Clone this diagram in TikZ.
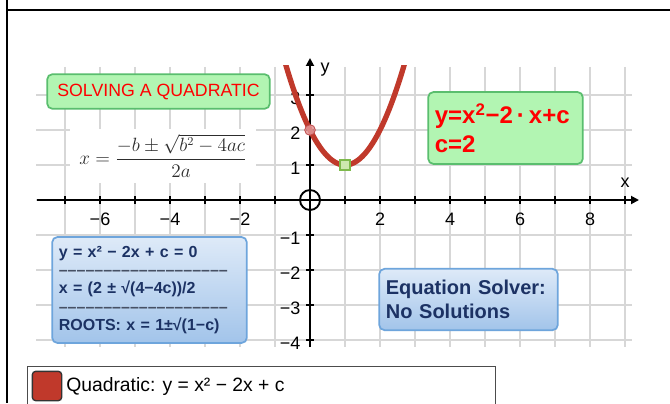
\documentclass[tikz,border=0pt]{standalone}
\usepackage{fontspec}
\setmainfont{Liberation Sans}
\usetikzlibrary{arrows.meta}
\definecolor{gridgray}{RGB}{215,215,215}
\definecolor{curvered}{RGB}{192,57,43}
\definecolor{gfill}{RGB}{178,245,178}
\definecolor{gdraw}{RGB}{90,190,110}
\definecolor{ggtext}{RGB}{255,0,0}
\definecolor{btop}{RGB}{222,234,248}
\definecolor{bbot}{RGB}{162,196,234}
\definecolor{bdraw}{RGB}{110,165,220}
\definecolor{navy}{RGB}{28,50,100}
\definecolor{dashgray}{RGB}{70,80,100}
\definecolor{formgray}{RGB}{45,45,45}
\definecolor{ptfill}{RGB}{228,150,150}
\definecolor{ptdraw}{RGB}{190,70,70}
\definecolor{vfill}{RGB}{205,232,175}
\definecolor{vdraw}{RGB}{125,185,75}
\tikzset{
  gridline/.style={draw=gridgray, line width=1.1pt},
  axisline/.style={line width=1.4pt, draw=black},
  tickmark/.style={line width=1.1pt, draw=black},
  ticklabel/.style={font=\fontsize{13.5}{15}\selectfont, inner sep=1pt},
  greenbox/.style={draw=gdraw, fill=gfill, line width=1.3pt, rounded corners=4pt},
  bluebox/.style={draw=bdraw, top color=btop, bottom color=bbot, line width=1.3pt, rounded corners=4pt},
  curveline/.style={draw=curvered, line width=4pt},
}
\begin{document}
\begin{tikzpicture}[x=0.75pt,y=-0.75pt]
\useasboundingbox (0,0) rectangle (670,403);
\fill[white] (0,0) rectangle (670,403);
% frame lines
\draw[line width=2pt] (7,10) -- (670,10);
\draw[line width=2pt] (7,0) -- (7,403);
% grid
\foreach \i in {-7,...,9} \draw[gridline] ({310+35*\i},67) -- ({310+35*\i},347);
\foreach \j in {-4,...,3} \draw[gridline] (36,{200-35*\j}) -- (632,{200-35*\j});
% axes
\coordinate (xstart) at (37,200);
\coordinate (xend) at (639,200);
\coordinate (ystart) at (310,347);
\coordinate (yend) at (310,58);
\coordinate (O) at (310,200);
\draw[axisline,-{Triangle[length=6pt,width=6pt]}] (xstart) -- (xend);
\draw[axisline,-{Triangle[length=6pt,width=6pt]}] (ystart) -- (yend);
\draw[axisline] (O) circle[radius=7.5pt];
\foreach \i in {-7,...,-1,1,2,...,9} \draw[tickmark] ({310+35*\i},196) -- ({310+35*\i},204);
\foreach \j in {-4,...,-1,1,2,3} \draw[tickmark] (306,{200-35*\j}) -- (314,{200-35*\j});
% tick labels
\foreach \i/\t in {-6/−6,-4/−4,-2/−2,2/2,4/4,6/6,8/8}
  \node[ticklabel] (xl\i) at ({310+35*\i},219) {\t};
\foreach \j/\t in {3/3,2/2,1/1,-1/−1,-2/−2,-3/−3,-4/−4}
  \node[ticklabel, anchor=east] (yl\j) at (302,{200-35*\j+3}) {\t};
\node[ticklabel] (xlab) at (625,183) {x};
\node[ticklabel] (ylab) at (325,70) {y};
% curve
\begin{scope}
  \clip (0,66) rectangle (670,403);
  \draw[curveline] plot[domain=-0.75:2.75, samples=80] ({310+35*\x},{200-35*(\x*\x-2*\x+2)});
\end{scope}
\node[circle, fill=ptfill, fill opacity=0.85, draw=ptdraw, line width=0.6pt, minimum size=8pt, inner sep=0pt] (pt) at (310,130) {};
\node[rectangle, fill=vfill, draw=vdraw, line width=0.8pt, minimum size=7.5pt, inner sep=0pt] (vertex) at (345,165) {};
% formula
\node[fill=white, minimum width=140pt, minimum height=41pt, inner sep=0pt, text=formgray, font=\fontsize{13.5}{16}\selectfont] (formula) at (163,156) {$x = \displaystyle\frac{-b \pm \sqrt{b^2-4ac}}{2a}$};
% title box
\node[greenbox, minimum width=167pt, minimum height=26pt, text=ggtext, font=\fontsize{13.3}{15}\selectfont] (title) at (158.5,91.5) {SOLVING A QUADRATIC};
% equation box
\node[greenbox, minimum width=116pt, minimum height=54pt, text=ggtext, font=\bfseries\fontsize{18}{21.75}\selectfont, align=left, text width=106pt, inner xsep=5pt] (eqbox) at (505.5,128) {y=x\textsuperscript{2}−2\,·\,x+c\\c=2};
% solving box
\node[bluebox, minimum width=146pt, minimum height=79.5pt, text=navy, font=\bfseries\fontsize{12}{13.7}\selectfont, align=left, text width=136pt, inner xsep=5pt] (solvebox) at (149.5,290) {y = x² − 2x + c = 0\\{\color{dashgray}–––––––––––––––––––}\\x = (2 ± √(4−4c))/2\\{\color{dashgray}–––––––––––––––––––}\\ROOTS: x = 1±√(1−c)};
% solver box
\node[bluebox, minimum width=134pt, minimum height=46pt, text=navy, font=\bfseries\fontsize{15}{18}\selectfont, align=left, text width=124pt, inner xsep=5pt] (solver) at (468.5,299.5) {Equation Solver:\\No Solutions};
% legend
\node[draw=black!70, line width=0.8pt, anchor=north west, minimum width=351pt, minimum height=40pt, inner sep=0pt] (legend) at (27,366) {};
\node[draw=black!80, fill=curvered, line width=1pt, rounded corners=2.5pt, minimum size=22pt, inner sep=0pt] (swatch) at (47,386) {};
\node[anchor=west, font=\fontsize{14.5}{16}\selectfont, inner sep=0pt] (legtext) at (66,386) {Quadratic: y = x² − 2x + c};
\end{tikzpicture}
\end{document}
